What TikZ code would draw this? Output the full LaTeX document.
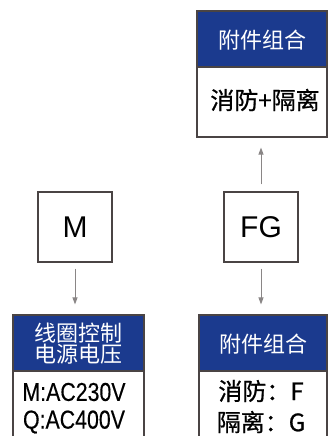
\documentclass[tikz,border=0pt]{standalone}
\usepackage{fontspec}
\setmainfont{Liberation Sans}
\newfontfamily\cjk{Noto Sans CJK SC}
\newfontfamily\cjkb[FakeBold=0.8]{Noto Sans CJK SC}
\newfontfamily\narrowlat[FakeStretch=0.82,FakeBold=0.3]{Liberation Sans}
\usetikzlibrary{arrows.meta}
\definecolor{hdr}{HTML}{1B3A8E}
\definecolor{edgec}{HTML}{4A4444}
\definecolor{arrc}{HTML}{8A8686}
\begin{document}
\begin{tikzpicture}[x=1pt,y=-1pt,
  box/.style={draw=edgec,line width=1.1pt,fill=white,inner sep=0,rectangle},
  hdrbox/.style={draw=edgec,line width=1.1pt,fill=hdr,inner sep=0,rectangle},
  hdrtext/.style={text=white,inner sep=0,font=\cjk\fontsize{22}{21}\selectfont,align=center},
  bodytext/.style={text=black,inner sep=0,font=\cjkb\fontsize{24}{26}\selectfont},
  latintext/.style={text=black,inner sep=0,font=\narrowlat\fontsize{26}{28}\selectfont},
  conn/.style={draw=arrc,line width=0.9pt,-{Triangle[length=7pt,width=5pt]}}]
\useasboundingbox (0,0) rectangle (329,436);
\clip (0,0) rectangle (329,436);
% top box
\node[hdrbox,minimum width=130pt,minimum height=56pt] (th) at (262,39) {};
\node[box,minimum width=130pt,minimum height=70pt] (tb) at (262,102) {};
\node[hdrtext] (tht) at (262,40) {附件组合};
\node[bodytext] (tbt) at (265,100) {消防+隔离};
% middle boxes
\node[box,minimum width=74pt,minimum height=70pt,font=\fontsize{30}{32}\selectfont] (m) at (75,227) {M};
\node[box,minimum width=74pt,minimum height=70pt,font=\fontsize{30}{32}\selectfont] (fg) at (261,227) {FG};
% lower left box
\node[hdrbox,minimum width=131pt,minimum height=56pt] (llh) at (78.5,343) {};
\node[box,minimum width=131pt,minimum height=89pt] (llb) at (78.5,415.5) {};
\node[hdrtext] (llht) at (78.5,343.5) {线圈控制\\电源电压};
\node[latintext] (ll1) at (74,392) {M:AC230V};
\node[latintext] (ll2) at (74,422) {Q:AC400V};
% lower right box
\node[hdrbox,minimum width=128pt,minimum height=56pt] (lrh) at (263,343) {};
\node[box,minimum width=128pt,minimum height=89pt] (lrb) at (263,415.5) {};
\node[hdrtext] (lrht) at (263,344) {附件组合};
\node[bodytext] (lr1) at (261,391) {消防：F};
\node[bodytext] (lr2) at (261,422) {隔离：G};
% connectors
\draw[conn,shorten <=7pt,shorten >=10pt] (fg.north) -- (fg.north |- tb.south);
\draw[conn,shorten <=6pt,shorten >=10pt] (m.south) -- (m.south |- llh.north);
\draw[conn,shorten <=6pt,shorten >=10pt] (fg.south) -- (fg.south |- lrh.north);
\end{tikzpicture}
\end{document}
